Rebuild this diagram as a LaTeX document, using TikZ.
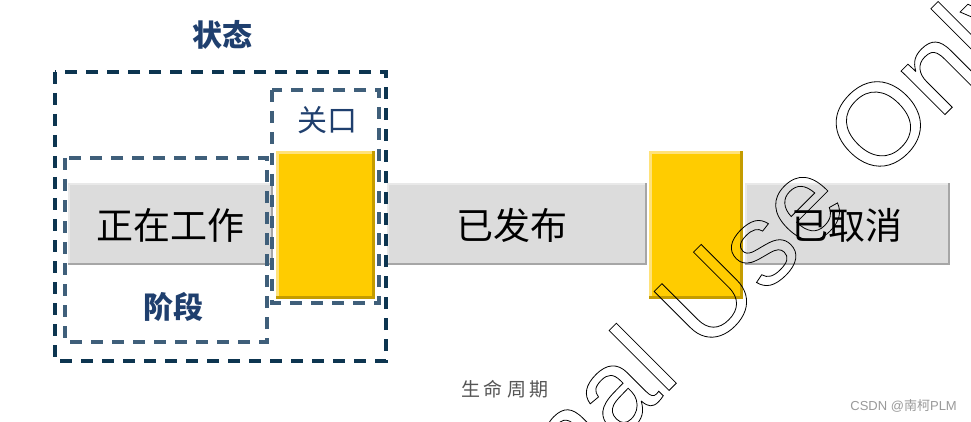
\documentclass[tikz,border=0pt]{standalone}
\usepackage{fontspec}
\setmainfont{Liberation Sans}
\newfontfamily\cjk{Noto Sans CJK SC}
\definecolor{navy}{HTML}{0D3550}
\definecolor{slate}{HTML}{3F5F7A}
\definecolor{lblue}{HTML}{1F3F6E}
\definecolor{barfill}{HTML}{DCDCDC}
\definecolor{barhi}{HTML}{E9E9E9}
\definecolor{barlo}{HTML}{A6A6A6}
\definecolor{gold}{HTML}{FFCC00}
\definecolor{goldhi}{HTML}{FFE27A}
\definecolor{goldlo}{HTML}{C49C00}
\definecolor{capgray}{HTML}{555555}
\definecolor{markgray}{HTML}{9A9A9A}
\newcommand\graybar[4]{%
  \fill[barfill] (#1,#2) rectangle (#3,#4);
  \fill[barhi] (#1,#2) rectangle (#3,#2+2);
  \fill[barhi] (#1,#2) rectangle (#1+2,#4);
  \fill[barlo] (#1,#4-2) rectangle (#3,#4);
  \fill[barlo] (#3-2,#2) rectangle (#3,#4);}
\newcommand\goldbox[4]{%
  \fill[gold] (#1,#2) rectangle (#3,#4);
  \fill[goldhi] (#1,#2) rectangle (#3,#2+3);
  \fill[goldhi] (#1,#2) rectangle (#1+3,#4);
  \fill[goldlo] (#1,#4-3) rectangle (#3,#4);
  \fill[goldlo] (#3-3,#2) rectangle (#3,#4);}
\newcommand\outlinetext[1]{\special{pdf:literal direct 1 Tr 0.8 w 0 G}#1\special{pdf:literal direct 0 Tr}}
\tikzset{
  outerbox/.style={draw=navy, line width=3.3pt, dash pattern=on 12pt off 9pt},
  innerbox/.style={draw=slate, line width=3.3pt, dash pattern=on 12pt off 9pt},
  bartext/.style={font=\cjk\fontsize{37}{37}\selectfont, text=black, inner sep=0},
  bluetext/.style={font=\cjk\fontsize{30}{30}\selectfont, text=lblue, inner sep=0},
}
\begin{document}
\begin{tikzpicture}[x=1pt,y=-1pt]
\useasboundingbox (0,0) rectangle (971,422);
\fill[white] (0,0) rectangle (971,422);
% gray bars
\graybar{68}{183}{273}{265}
\graybar{387}{183}{647}{265}
\graybar{745}{183}{950}{265}
% dashed boxes
\draw[outerbox] (55,72) rectangle (386,361);
\draw[innerbox] (65,158) rectangle (267,342);
\draw[innerbox] (272,90) rectangle (379,303);
% gates
\goldbox{276}{151}{375}{299}
\goldbox{649}{151}{743}{299}
% labels
\node[bluetext, font=\cjk\bfseries\fontsize{30}{30}\selectfont] (state) at (222,35) {状态};
\node[bluetext] (gate) at (327,120) {关口};
\node[bluetext, font=\cjk\bfseries\fontsize{30}{30}\selectfont] (phase) at (173,307) {阶段};
\node[bartext] (work) at (170,225) {正在工作};
\node[bartext] (rel) at (512,225) {已发布};
\node[bartext] (canc) at (847,225) {已取消};
\node[font=\cjk\fontsize{19}{19}\selectfont, text=capgray, inner sep=0] (life) at (505,389) {生\hspace{4pt}命\hspace{4pt}周\hspace{4pt}期};
\node[font=\fontsize{13}{13}\selectfont, text=markgray, inner sep=0, anchor=east] (csdn) at (957,406) {CSDN @{\cjk 南柯}PLM};
% watermark
\begin{scope}
\clip (0,0) rectangle (971,422);
\node[rotate=45, anchor=base west, inner sep=0, font=\fontsize{117}{117}\selectfont] (wm) at (405.8,653.7)
  {\outlinetext{Internal Use Only}};
\end{scope}
\end{tikzpicture}
\end{document}
